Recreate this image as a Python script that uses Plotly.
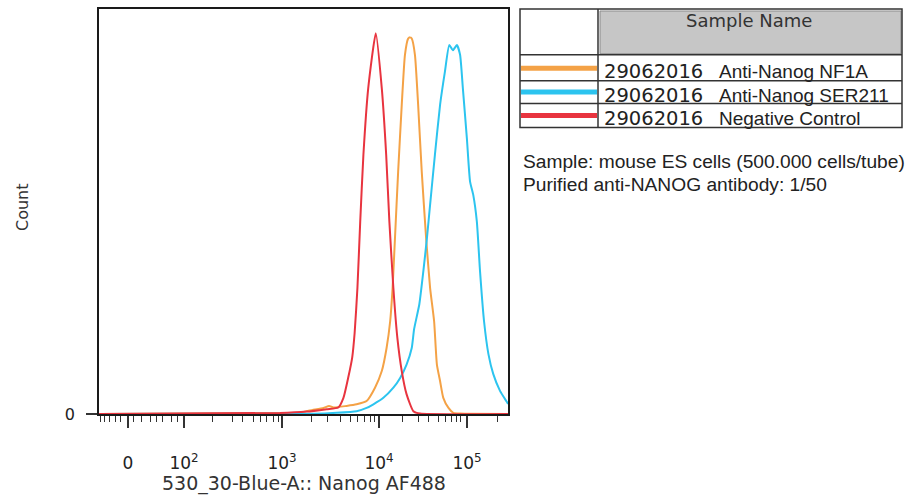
import plotly.graph_objects as go

# ---------------- data (display channel 0..1024, count as % of frame height) ----------------
neg_x = [0, 453, 520, 570, 599, 612, 624, 634, 640, 647, 654, 662, 674, 693, 708, 719, 727, 737, 747, 758, 770, 787, 804, 1024]
neg_y = [0, 0.25, 0.6, 1.2, 1.6, 4.0, 9.0, 14.0, 20.0, 31.1, 47.5, 64.0, 80.4, 94.0, 80.4, 64.0, 47.5, 31.1, 18.8, 10.6, 4.9, 0.7, 0.1, 0]

nf1a_x = [0, 486, 503, 528, 562, 576, 587, 620, 645, 670, 691, 708, 720, 729, 735, 741, 749, 758, 766, 774,
          779, 783, 791, 799, 808, 819, 829, 839, 846, 854, 862, 875, 887, 904, 1024]
nf1a_y = [0, 0.2, 0.3, 0.9, 1.5, 2.0, 1.6, 2.0, 2.4, 3.2, 6.5, 10.6, 16.3, 22.9, 31.1, 43.4, 59.9, 76.4, 88.7, 92.7,
          93.0, 92.7, 88.7, 76.4, 59.9, 43.4, 31.1, 22.9, 12.2, 8.1, 4.0, 1.5, 0.3, 0.1, 0]

ser_x = [0, 536, 595, 645, 670, 687, 712, 737, 754, 770, 783, 789, 802, 812, 821, 829, 841, 854, 866, 877,
         886, 896, 904, 911, 921, 929, 937, 946, 954, 964, 975, 987, 1004, 1021, 1024]
ser_y = [0, 0.05, 0.3, 0.7, 1.5, 2.4, 4.0, 6.5, 8.9, 12.2, 16.3, 21.0, 27.1, 35.2, 43.4, 51.7, 64.0, 76.4, 84.5, 91.1,
         89.8, 91.1, 88.7, 80.4, 68.1, 57.4, 54.1, 47.5, 35.2, 22.9, 14.8, 9.9, 5.7, 3.0, 2.5]

series_names = ["29062016  Anti-Nanog NF1A", "29062016  Anti-Nanog SER211", "29062016  Negative Control"]
sample_ids = ["29062016", "29062016", "29062016"]
sample_labels = ["Anti-Nanog NF1A", "Anti-Nanog SER211", "Negative Control"]

major_tick_pos = [72.6, 212.8, 458.2, 701.1, 921.4]
major_tick_text = ["0", "10<sup>2</sup>", "10<sup>3</sup>", "10<sup>4</sup>", "10<sup>5</sup>"]
minor_tick_pos = [2.5, 15.0, 27.5, 40.1, 52.6, 87.6, 105.2, 127.7, 145.2, 160.2, 180.3, 195.3,
                  285.4, 333.0, 360.5, 385.6, 403.1, 420.6, 435.7, 448.2,
                  530.8, 573.3, 603.4, 628.5, 646.0, 663.5, 678.5, 688.9,
                  761.1, 798.7, 823.7, 848.8, 866.3, 881.3, 893.8, 906.3, 996.5]

colors = ["#f4a246", "#2cc4ef", "#e8343f"]

# ---------------- figure ----------------
W, H = 908, 498
L, R, T, B = 99, 508, 7, 414


def px(x):
    return (x - L) / (R - L)


def py(y):
    return (B - y) / (B - T)


fig = go.Figure()
for xs, ys, c, nm in [(nf1a_x, nf1a_y, colors[0], series_names[0]),
                      (ser_x, ser_y, colors[1], series_names[1]),
                      (neg_x, neg_y, colors[2], series_names[2])]:
    fig.add_trace(go.Scatter(x=xs, y=ys, mode="lines", name=nm, showlegend=False,
                             line=dict(color=c, width=2, shape="spline", smoothing=0.5)))

shapes = []
annotations = []

# legend table
tx0, tx1, tc, ty0, ty1 = 520, 902, 598, 7, 126
row_lines = [53, 79, 102]
row_centers = [66.5, 90.5, 114]
shapes.append(dict(type="rect", xref="paper", yref="paper", x0=px(tc + 2), x1=px(tx1 - 1),
                   y0=py(52), y1=py(ty0 + 2), fillcolor="#c6c6c6", line=dict(color="#8a8a8a", width=1)))
shapes.append(dict(type="rect", xref="paper", yref="paper", x0=px(tx0), x1=px(tx1),
                   y0=py(ty1), y1=py(ty0), line=dict(color="#333333", width=1.5)))
shapes.append(dict(type="line", xref="paper", yref="paper", x0=px(tc), x1=px(tc),
                   y0=py(ty1), y1=py(ty0), line=dict(color="#333333", width=1.5)))
for yl in row_lines:
    shapes.append(dict(type="line", xref="paper", yref="paper", x0=px(tx0), x1=px(tx1),
                       y0=py(yl), y1=py(yl), line=dict(color="#333333", width=1.5)))
for yc, c in zip(row_centers, colors):
    shapes.append(dict(type="line", xref="paper", yref="paper", x0=px(tx0 + 1), x1=px(tc - 1),
                       y0=py(yc), y1=py(yc), line=dict(color=c, width=5)))

annotations.append(dict(text="Sample Name", xref="paper", yref="paper", x=px(749), y=py(19),
                        showarrow=False, xanchor="center", yanchor="middle",
                        font=dict(family="DejaVu Sans", size=18, color="#333333")))
for yc, sid, lab in zip(row_centers, sample_ids, sample_labels):
    annotations.append(dict(text=sid, xref="paper", yref="paper", x=px(602), y=py(yc + 3),
                            showarrow=False, xanchor="left", yanchor="middle",
                            font=dict(family="DejaVu Sans", size=19.5, color="#222222")))
    annotations.append(dict(text=lab, xref="paper", yref="paper", x=px(717), y=py(yc + 3),
                            showarrow=False, xanchor="left", yanchor="middle",
                            font=dict(family="Liberation Sans", size=19, color="#222222")))

annotations.append(dict(text="Sample: mouse ES cells (500.000 cells/tube)", xref="paper", yref="paper",
                        x=px(521), y=py(160), showarrow=False, xanchor="left", yanchor="middle",
                        font=dict(family="Liberation Sans", size=19.2, color="#222222")))
annotations.append(dict(text="Purified anti-NANOG antibody: 1/50", xref="paper", yref="paper",
                        x=px(521), y=py(183), showarrow=False, xanchor="left", yanchor="middle",
                        font=dict(family="Liberation Sans", size=19.2, color="#222222")))

# axis titles
annotations.append(dict(text="530_30-Blue-A:: Nanog AF488", xref="paper", yref="paper",
                        x=px(303.5), y=py(484), showarrow=False, xanchor="center", yanchor="middle",
                        font=dict(family="DejaVu Sans", size=19, color="#333333")))
annotations.append(dict(text="Count", xref="paper", yref="paper", textangle=-90,
                        x=px(22), y=py(206), showarrow=False, xanchor="center", yanchor="middle",
                        font=dict(family="DejaVu Sans", size=16, color="#333333")))

fig.update_layout(
    width=W, height=H,
    margin=dict(l=L, r=W - R, t=T, b=H - B),
    paper_bgcolor="white", plot_bgcolor="white",
    showlegend=False,
    shapes=shapes, annotations=annotations,
    xaxis=dict(range=[0, 1024], showgrid=False, zeroline=False,
               showline=True, linecolor="#1a1a1a", linewidth=1.5, mirror=True,
               ticks="outside", ticklen=12, tickwidth=1.5, tickcolor="#333333",
               tickmode="array", tickvals=major_tick_pos, ticktext=major_tick_text,
               tickfont=dict(family="DejaVu Sans", size=17, color="#222222"),
               ticklabelstandoff=21,
               minor=dict(tickmode="array", tickvals=minor_tick_pos, ticks="outside",
                          ticklen=6, tickwidth=1.2, tickcolor="#333333", showgrid=False)),
    yaxis=dict(range=[0, 100], showgrid=False, zeroline=False,
               showline=True, linecolor="#1a1a1a", linewidth=1.5, mirror=True,
               ticks="outside", ticklen=11, tickwidth=1.5, tickcolor="#333333",
               tickmode="array", tickvals=[0], ticktext=["0"],
               tickfont=dict(family="DejaVu Sans", size=16, color="#222222"),
               ticklabelstandoff=8),
)

fig.write_html("out.html", config={"displayModeBar": False},
               post_script="document.body.style.margin='0';document.body.style.padding='0';"
                           "document.body.style.overflow='hidden';")
